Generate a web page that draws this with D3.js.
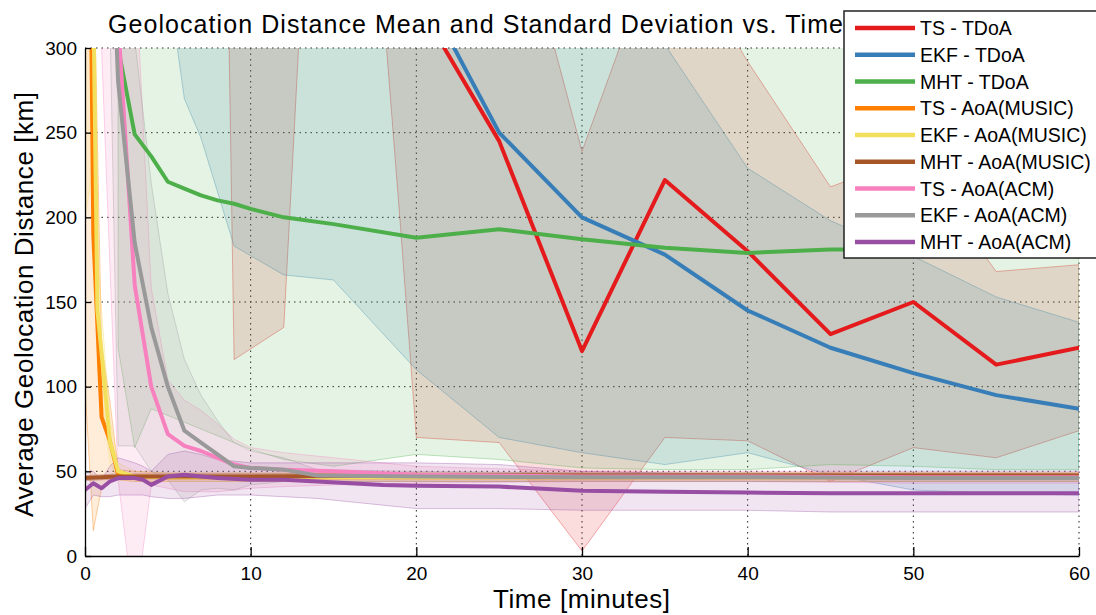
<!DOCTYPE html>
<html lang="en">
<head>
<title>Geolocation Distance Mean and Standard Deviation vs. Time</title>
<meta charset="utf-8">
<script src="https://cdnjs.cloudflare.com/ajax/libs/d3/7.8.5/d3.min.js"></script>
<style>
body { margin: 0; background: #fff; }
svg text { font-family: "Liberation Sans", Arial, Helvetica, sans-serif; fill: #000; }
.grid line { stroke: #222; stroke-width: 1; stroke-dasharray: 1.5,4; }
.axis path, .axis line { stroke: #000; stroke-width: 1.3; }
.axis text { font-size: 19px; }
</style>
</head>
<body>
<div id="chart"></div>
<script>

// ---- data ----
var legendNames = ['TS - TDoA', 'EKF - TDoA', 'MHT - TDoA',
                   'TS - AoA(MUSIC)', 'EKF - AoA(MUSIC)', 'MHT - AoA(MUSIC)',
                   'TS - AoA(ACM)', 'EKF - AoA(ACM)', 'MHT - AoA(ACM)']
var colors = ['#e41a1c', '#377eb8', '#4daf4a', '#ff7f00', '#f2df5c', '#a65628', '#f781bf', '#999999', '#984ea3']

var xTicks = [0, 10, 20, 30, 40, 50, 60]
var yTicks = [0, 50, 100, 150, 200, 250, 300]

// TS - TDoA
var tsTdoaT    = [8, 9, 12, 13, 18, 19, 20, 25, 30, 35, 40, 45, 50, 55, 60]
var tsTdoaMean = [1100, 410, 440, 800, 800, 560, 328, 245, 121, 222, 180, 131, 150, 113, 123]
var tsTdoaLo   = [730, 116, 135, 320, 325, 200, 70, 67, 3, 70, 68, 44, 64, 58, 74]
var tsTdoaHi   = [1470, 704, 745, 1280, 1275, 920, 586, 423, 239, 374, 292, 218, 236, 168, 172]

// EKF - TDoA
var ekfTdoaT    = [5, 6, 7, 9, 12, 15, 20, 25, 30, 35, 40, 45, 50, 55, 60]
var ekfTdoaMean = [900, 800, 700, 600, 520, 450, 342, 250, 200, 178, 145, 123, 108, 95, 87]
var ekfTdoaLo   = [340, 270, 247, 183, 166, 163, 110, 70, 61, 54, 61, 48, 39, 37, 36]
var ekfTdoaHi   = [1460, 1330, 1153, 1017, 874, 737, 574, 430, 339, 302, 229, 198, 177, 153, 138]

// MHT - TDoA
var mhtTdoaT    = [2, 3, 4, 5, 6, 7, 8, 9, 10, 12, 15, 20, 25, 30, 35, 40, 45, 50, 55, 60]
var mhtTdoaMean = [300, 249, 236, 221, 217, 213, 210, 208, 205, 200, 196, 188, 193, 187, 182, 179, 181, 181, 178, 177]
var mhtTdoaLo   = [123, 64, 87, 83, 79, 75, 71, 67, 63, 57, 53, 60, 57, 52, 51, 51, 54, 53, 51, 51]
var mhtTdoaHi   = [477, 434, 385, 359, 355, 351, 349, 349, 347, 343, 339, 316, 329, 322, 313, 307, 308, 309, 305, 303]

// TS - AoA(MUSIC)
var tsMusicT    = [0, 0.5, 1, 1.5, 2, 3, 5, 10, 20, 30, 40, 50, 60]
var tsMusicMean = [700, 190, 82, 68, 48, 47, 46.5, 46.5, 46.5, 46.5, 46.5, 46.5, 46.5]
var tsMusicLo   = [100, 15, 40, 44, 45, 44, 44, 44, 44, 44, 44, 44, 44]
var tsMusicHi   = [1300, 365, 124, 92, 51, 50, 49, 49, 49, 49, 49, 49, 49]

// EKF - AoA(MUSIC)
var ekfMusicT    = [0, 0.5, 0.75, 1, 1.5, 2, 3, 5, 10, 20, 30, 40, 50, 60]
var ekfMusicMean = [1200, 330, 145, 120, 68, 50, 47, 46.5, 46.5, 46.5, 46.5, 46.5, 46.5, 46.5]
var ekfMusicLo   = [200, 230, 110, 95, 55, 45, 44, 44, 44, 44, 44, 44, 44, 44]
var ekfMusicHi   = [2200, 430, 180, 145, 81, 55, 50, 49, 49, 49, 49, 49, 49, 49]

// MHT - AoA(MUSIC)
var mhtMusicT    = [0, 1, 2, 5, 10, 20, 30, 40, 50, 60]
var mhtMusicMean = [46, 46.5, 47, 47, 47, 47.5, 47.5, 47.5, 47.5, 47.5]
var mhtMusicLo   = [44.5, 45, 45.5, 45.5, 45.5, 46, 46, 46, 46, 46]
var mhtMusicHi   = [47.5, 48, 48.5, 48.5, 48.5, 49, 49, 49, 49, 49]

// TS - AoA(ACM)
var tsAcmT    = [1, 2, 3, 4, 5, 6, 7, 8, 9, 10, 12, 15, 20, 30, 40, 50, 60]
var tsAcmMean = [500, 315, 160, 100, 72, 65, 62, 58, 54, 52, 51, 50, 48, 47, 47, 46.5, 46.5]
var tsAcmLo   = [300, 45, -35, 42, 40, 38, 38, 38, 39, 40, 41, 42, 43, 44, 44, 43, 43]
var tsAcmHi   = [700, 585, 355, 158, 104, 92, 86, 78, 69, 64, 61, 58, 53, 50, 50, 50, 50]

// EKF - AoA(ACM)
var ekfAcmT    = [1, 1.5, 2, 3, 4, 5, 6, 7, 8, 9, 10, 12, 14, 20, 30, 40, 50, 60]
var ekfAcmMean = [500, 400, 280, 185, 135, 100, 74, 67, 60, 53, 52, 51, 47.5, 47, 46.5, 46.5, 46, 46]
var ekfAcmLo   = [450, 320, 65, 65, 50, 45, 32, 39, 40, 39, 42, 44, 44, 44, 44, 44, 44, 44]
var ekfAcmHi   = [550, 480, 495, 305, 220, 155, 116, 95, 80, 67, 62, 58, 51, 50, 49, 49, 48, 48]

// MHT - AoA(ACM)
var mhtAcmT    = [0, 0.5, 1, 1.5, 2, 3, 3.5, 4, 5, 6, 7, 8, 10, 12, 14, 16, 18, 20, 25, 30, 35, 40, 45, 50, 55, 60]
var mhtAcmMean = [39, 43, 40, 44, 46, 46, 45, 42, 47, 48, 47, 46, 45, 45, 44, 43, 42, 41.5, 41, 38.5, 38, 37.5, 37, 37, 37, 37]
var mhtAcmLo   = [28, 36, 35, 35, 36, 36, 36, 35, 34, 34, 35, 36, 36, 35, 34, 32, 30, 28, 28, 27, 27, 27, 26, 26, 26, 26]
var mhtAcmHi   = [50, 50, 45, 53, 58, 55, 53, 50, 60, 62, 60, 57, 55, 55, 55, 55, 55, 55, 54, 50, 49, 48, 48, 48, 48, 48]

var seriesT    = [tsTdoaT, ekfTdoaT, mhtTdoaT, tsMusicT, ekfMusicT, mhtMusicT, tsAcmT, ekfAcmT, mhtAcmT]
var seriesMean = [tsTdoaMean, ekfTdoaMean, mhtTdoaMean, tsMusicMean, ekfMusicMean, mhtMusicMean, tsAcmMean, ekfAcmMean, mhtAcmMean]
var seriesLo   = [tsTdoaLo, ekfTdoaLo, mhtTdoaLo, tsMusicLo, ekfMusicLo, mhtMusicLo, tsAcmLo, ekfAcmLo, mhtAcmLo]
var seriesHi   = [tsTdoaHi, ekfTdoaHi, mhtTdoaHi, tsMusicHi, ekfMusicHi, mhtMusicHi, tsAcmHi, ekfAcmHi, mhtAcmHi]

// ---- layout ----
var svgWidth = 1096, svgHeight = 615
var plot = { left: 85, right: 1079, top: 48, bottom: 556 }

var x = d3.scaleLinear().domain([0, 60]).range([plot.left, plot.right])
var y = d3.scaleLinear().domain([0, 300]).range([plot.bottom, plot.top])

var svg = d3.select('#chart').append('svg')
    .attr('width', svgWidth)
    .attr('height', svgHeight)

svg.append('clipPath').attr('id', 'plotClip')
  .append('rect')
    .attr('x', plot.left).attr('y', plot.top)
    .attr('width', plot.right - plot.left)
    .attr('height', plot.bottom - plot.top)

// grid
var grid = svg.append('g').attr('class', 'grid')
grid.selectAll('.gx').data(xTicks.slice(1)).enter().append('line')
    .attr('x1', function(d) { return x(d) }).attr('x2', function(d) { return x(d) })
    .attr('y1', plot.top).attr('y2', plot.bottom)
grid.selectAll('.gy').data(yTicks.slice(1)).enter().append('line')
    .attr('x1', plot.left).attr('x2', plot.right)
    .attr('y1', function(d) { return y(d) }).attr('y2', function(d) { return y(d) })

var data = d3.range(9).map(function(k) {
    return seriesT[k].map(function(t, i) {
        return { t: t, m: seriesMean[k][i], lo: seriesLo[k][i], hi: seriesHi[k][i] }
    })
})

var area = d3.area()
    .x(function(d) { return x(d.t) })
    .y0(function(d) { return y(d.lo) })
    .y1(function(d) { return y(d.hi) })

var line = d3.line()
    .x(function(d) { return x(d.t) })
    .y(function(d) { return y(d.m) })

var bands = svg.append('g').attr('clip-path', 'url(#plotClip)')
data.forEach(function(pts, k) {
    bands.append('path')
        .attr('d', area(pts))
        .attr('fill', colors[k])
        .attr('fill-opacity', 0.15)
        .attr('stroke', colors[k])
        .attr('stroke-opacity', 0.35)
        .attr('stroke-width', 1)
})

var lines = svg.append('g').attr('clip-path', 'url(#plotClip)')
data.forEach(function(pts, k) {
    lines.append('path')
        .attr('d', line(pts))
        .attr('fill', 'none')
        .attr('stroke', colors[k])
        .attr('stroke-width', 4)
        .attr('stroke-linejoin', 'round')
        .attr('stroke-linecap', 'round')
})

// axes
svg.append('g')
    .attr('class', 'axis')
    .attr('transform', 'translate(0,' + plot.bottom + ')')
    .call(d3.axisBottom(x).tickValues(xTicks).tickSizeInner(-9).tickSizeOuter(0).tickPadding(11))

svg.append('g')
    .attr('class', 'axis')
    .attr('transform', 'translate(' + plot.left + ',0)')
    .call(d3.axisLeft(y).tickValues(yTicks).tickSizeInner(-6).tickSizeOuter(0).tickPadding(8))

// titles
svg.append('text')
    .attr('x', 475.5).attr('y', 33)
    .attr('text-anchor', 'middle')
    .attr('font-size', 25)
    .attr('textLength', 735)
    .text('Geolocation Distance Mean and Standard Deviation vs. Time')

svg.append('text')
    .attr('x', 581.5).attr('y', 608)
    .attr('text-anchor', 'middle')
    .attr('font-size', 26)
    .attr('textLength', 177)
    .text('Time [minutes]')

svg.append('text')
    .attr('transform', 'translate(33,304.5) rotate(-90)')
    .attr('text-anchor', 'middle')
    .attr('font-size', 26)
    .attr('textLength', 425)
    .text('Average Geolocation Distance [km]')

// legend
var legend = svg.append('g').attr('transform', 'translate(844,11)')
legend.append('rect')
    .attr('width', 262).attr('height', 247)
    .attr('fill', '#fff')
    .attr('stroke', '#222')
    .attr('stroke-width', 1.5)

var entries = legend.selectAll('.entry').data(legendNames).enter().append('g')
    .attr('transform', function(d, i) { return 'translate(0,' + (17 + i * 26.75) + ')' })
entries.append('line')
    .attr('x1', 11).attr('x2', 71)
    .attr('stroke', function(d, i) { return colors[i] })
    .attr('stroke-width', 4.5)
entries.append('text')
    .attr('x', 76).attr('dy', '0.36em')
    .attr('font-size', 19.5)
    .text(function(d) { return d })

</script>
</body>
</html>
